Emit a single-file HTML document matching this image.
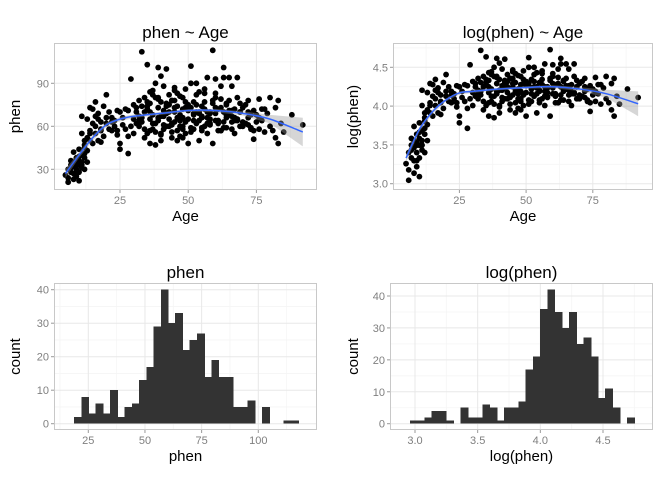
<!DOCTYPE html>
<html><head><meta charset="utf-8"><style>
body{margin:0;background:#fff;}
svg{display:block;font-family:"Liberation Sans",Arial,sans-serif;}
</style></head><body>
<svg id="c" width="672" height="480" viewBox="0 0 672 480"></svg>
<script>
const ages=[5,6,6,6,7,7,7,8,8,8,8,9,9,9,9,10,10,10,10,11,11,11,12,12,12,13,13,11,12,13,14,14,15,15,16,16,17,17,18,18,19,20,21,11,13,14,16,17,19,20,15,18,22,22,23,24,24,25,25,23,21,25,26,27,28,28,29,28,30,31,32,30,33,32,34,34,35,35,36,36,37,37,38,38,39,39,40,40,41,41,42,42,43,43,44,44,45,45,46,46,47,47,48,48,49,49,50,50,51,51,52,52,53,53,54,54,55,55,56,56,57,57,58,58,59,59,60,60,61,61,62,62,63,63,64,64,65,65,66,66,67,67,68,68,69,69,70,71,72,72,73,74,74,75,76,76,77,78,79,80,80,82,82,83,83,84,85,88,92,30,32,33,34,35,36,37,38,39,40,41,42,43,44,45,46,47,48,49,50,51,52,53,54,55,56,57,58,59,60,61,62,63,64,65,66,67,68,70,71,73,75,77,33,36,39,42,45,48,51,54,57,60,63,26,27,29,31,44,46,40,38,47,
7,8,9,10,11,12,9,10,12,14,16,18,20,22,24,31,33,35,37,39,41,43,45,47,49,51,53,55,57,59,61,63,65,67,69,71,73,32,34,36,38,40,42,44,46,48,50,52,54,56,58,60,62,64,66,68,70,72,74,76,78,81,35,37,39,41,43,45,47,49,53,55,58,62,66,69,72,36,40,44,48,52,56,60,64,68];
const phens=[26,21,24,30,33,28,36,23,27,35,42,25,30,38,33,22,28,44,36,31,40,35,30,45,38,35,43,55,47,52,50,57,48,62,60,55,50,65,49,57,53,62,58,67,65,73,77,69,74,82,72,63,66,57,60,71,54,48,44,64,70,70,61,58,41,53,93,71,65,70,60,55,112,78,80,52,103,72,65,48,85,58,90,62,101,73,95,55,88,67,100,60,82,70,78,52,63,85,74,57,68,81,60,72,55,86,65,48,90,102,77,58,70,62,84,50,67,74,60,83,94,55,70,65,113,48,80,93,72,62,88,57,101,94,75,66,68,94,88,58,72,64,94,80,60,70,73,62,66,78,59,71,51,68,79,58,64,56,69,80,60,73,52,48,78,62,56,68,61,75,67,63,58,55,76,68,56,64,77,58,74,65,61,70,66,53,80,63,71,56,68,75,64,59,72,66,61,76,69,57,73,63,59,78,71,55,65,63,75,68,63,72,74,70,80,69,78,66,73,70,62,64,70,66,72,60,62,56,50,50,47,60,
31,32,34,39,33,41,27,33,50,55,67,58,66,63,57,73,66,77,62,79,71,60,73,67,77,59,82,66,70,78,64,59,71,66,76,62,58,64,70,57,80,67,76,62,83,58,75,64,69,86,62,73,57,76,67,64,60,70,57,66,72,57,74,82,66,61,75,87,64,73,90,57,69,79,63,70,61,84,54,78,52,69,77,83,68,65];
const smoothAge=[5,10,15,20,25,30,40,50,60,70,80,92];
const smoothPhen=[27,40,52,61,65,67,69,71,71,69,65,56];
const smoothPhenSe=[3,2,2,1.5,1.5,1.2,1,1,1.2,1.5,3,10];
const smoothLog=[3.33,3.70,3.93,4.08,4.17,4.19,4.22,4.24,4.25,4.22,4.16,4.03];
const smoothLogSe=[0.05,0.03,0.03,0.02,0.02,0.02,0.015,0.015,0.02,0.025,0.05,0.16];
const hist1Start=18.7, hist1Width=3.19;
const hist1Counts=[2,8,3,6,3,10,2,5,6,13,17,29,40,30,33,22,25,27,14,19,14,14,5,5,7,0,5,0,0,1,1];
const hist2Start=2.96, hist2Width=0.0577;
const hist2Counts=[1,1,2,4,4,1,0,5,2,2,6,5,1,5,5,7,17,21,36,42,35,30,35,25,27,21,8,11,5,0,2];
const sc1XTicks=[25,50,75], sc1YTicks=[30,60,90];
const sc2YTicks=[3.0,3.5,4.0,4.5], sc2YLabels=["3.0","3.5","4.0","4.5"];
const h1XTicks=[25,50,75,100], h1YTicks=[0,10,20,30,40];
const h2XTicks=[3.0,3.5,4.0,4.5], h2XLabels=["3.0","3.5","4.0","4.5"], h2YTicks=[0,10,20,30,40];

const svg=document.getElementById('c');
const NS='http://www.w3.org/2000/svg';
function mk(tag,at,parent){const e=document.createElementNS(NS,tag);for(const k in at)e.setAttribute(k,at[k]);(parent||svg).appendChild(e);return e;}
function lin(d0,d1,r0,r1){return v=>r0+(v-d0)*(r1-r0)/(d1-d0);}

function panel(p){
  const g=mk('g',{});
  
  
  const bg=mk('rect',{x:p.x0,y:p.y0,width:p.x1-p.x0,height:p.y1-p.y0,fill:'#fff'},g);
  
  
  const X=lin(p.xd[0],p.xd[1],p.xr[0],p.xr[1]), Y=lin(p.yd[0],p.yd[1],p.yr[0],p.yr[1]);
  const xs=p.xt, ys=p.yt;
  const dx=xs[1]-xs[0], dy=ys[1]-ys[0];
  for(let v=xs[0]-dx/2; v<=xs[xs.length-1]+dx; v+=dx){const px=X(v); if(px>p.x0&&px<p.x1) mk('line',{x1:px,x2:px,y1:p.y0,y2:p.y1,stroke:'#f5f5f5','stroke-width':0.8},g);}
  for(let v=ys[0]-dy/2; v<=ys[ys.length-1]+dy; v+=dy){const py=Y(v); if(py>p.y0&&py<p.y1) mk('line',{x1:p.x0,x2:p.x1,y1:py,y2:py,stroke:'#f5f5f5','stroke-width':0.8},g);}
  xs.forEach((v,i)=>{const px=X(v);mk('line',{x1:px,x2:px,y1:p.y0,y2:p.y1,stroke:'#e8e8e8','stroke-width':1},g);
    mk('line',{x1:px,x2:px,y1:p.y1,y2:p.y1+3,stroke:'#999','stroke-width':1},g);
    const t=mk('text',{x:px,y:p.y1+14,'text-anchor':'middle','font-size':11,fill:'#7f7f7f'},g);t.textContent=p.xl?p.xl[i]:v;
    });
  ys.forEach((v,i)=>{const py=Y(v);mk('line',{x1:p.x0,x2:p.x1,y1:py,y2:py,stroke:'#e8e8e8','stroke-width':1},g);
    mk('line',{x1:p.x0-3,x2:p.x0,y1:py,y2:py,stroke:'#999','stroke-width':1},g);
    const t=mk('text',{x:p.x0-5,y:py+4,'text-anchor':'end','font-size':11,fill:'#7f7f7f'},g);t.textContent=p.yl?p.yl[i]:v;
    });
  p.draw(X,Y,g);
  mk('rect',{x:p.x0+0.5,y:p.y0+0.5,width:p.x1-p.x0-1,height:p.y1-p.y0-1,fill:'none',stroke:'#c8c8c8','stroke-width':1},g);
  const tt=mk('text',{x:(p.x0+p.x1)/2,y:p.y0-5,'text-anchor':'middle','font-size':17,fill:'#000'},g);tt.textContent=p.title;
  
  const xt=mk('text',{x:(p.x0+p.x1)/2,y:p.y1+31,'text-anchor':'middle','font-size':15,fill:'#000'},g);xt.textContent=p.xlab;
  
  const yx=p.ylabX, yy=(p.y0+p.y1)/2;
  const yt=mk('text',{x:yx,y:yy,'text-anchor':'middle','font-size':15,fill:'#000',transform:`rotate(-90 ${yx} ${yy})`},g);yt.textContent=p.ylab;
  
}
function scatterDraw(vals,sm,se){return (X,Y,g)=>{
  ages.forEach((a,i)=>{if(vals[i]===undefined||isNaN(vals[i]))return;
    const c=mk('circle',{cx:X(a),cy:Y(vals[i]),r:2.9,fill:'#000'},g);
    });
  let up=smoothAge.map((a,i)=>X(a)+','+Y(sm[i]+se[i])).join(' ');
  let lo=smoothAge.map((a,i)=>X(a)+','+Y(sm[i]-se[i])).reverse().join(' ');
  const band=mk('polygon',{points:up+' '+lo,fill:'#999','fill-opacity':0.4},g);
  
  const pts=smoothAge.map((a,i)=>[X(a),Y(sm[i])]);
  let d='M'+pts[0];
  for(let i=0;i<pts.length-1;i++){const p0=pts[i-1]||pts[i],p1=pts[i],p2=pts[i+1],p3=pts[i+2]||p2;
    d+=` C${p1[0]+(p2[0]-p0[0])/6},${p1[1]+(p2[1]-p0[1])/6} ${p2[0]-(p3[0]-p1[0])/6},${p2[1]-(p3[1]-p1[1])/6} ${p2[0]},${p2[1]}`;}
  const l=mk('path',{d:d,fill:'none',stroke:'#3366ff','stroke-width':1.5},g);
  
};}
function histDraw(start,w,counts){return (X,Y,g)=>{
  counts.forEach((c,i)=>{if(!c)return;const a=start+i*w;
    const r=mk('rect',{x:X(a),y:Y(c),width:X(a+w)-X(a)+0.6,height:Y(0)-Y(c),fill:'#333','shape-rendering':'crispEdges'},g);
    });
};}
const logs=phens.map(Math.log);
panel({name:'panel-phen-vs-age',x0:54,x1:317,y0:43,y1:190,xd:[0,25],xr:[51.8,120],yd:[30,90],yr:[169.3,83.3],xt:sc1XTicks,yt:sc1YTicks,title:'phen ~ Age',xlab:'Age',ylab:'phen',ylabX:20,draw:scatterDraw(phens,smoothPhen,smoothPhenSe)});
panel({name:'panel-logphen-vs-age',x0:393,x1:653,y0:43,y1:190,xd:[0,25],xr:[392.7,459.4],yd:[3.0,4.5],yr:[183.7,67.3],xt:sc1XTicks,yt:sc2YTicks,yl:sc2YLabels,title:'log(phen) ~ Age',xlab:'Age',ylab:'log(phen)',ylabX:358,draw:scatterDraw(logs,smoothLog,smoothLogSe)});
panel({name:'panel-phen-histogram',x0:54,x1:317,y0:283,y1:430,xd:[25,100],xr:[88.3,258.3],yd:[0,40],yr:[423.7,289.7],xt:h1XTicks,yt:h1YTicks,title:'phen',xlab:'phen',ylab:'count',ylabX:20,draw:histDraw(hist1Start,hist1Width,hist1Counts)});
panel({name:'panel-logphen-histogram',x0:390,x1:653,y0:283,y1:430,xd:[3.0,4.5],xr:[415,603],yd:[0,40],yr:[423.7,296],xt:h2XTicks,xl:h2XLabels,yt:h2YTicks,title:'log(phen)',xlab:'log(phen)',ylab:'count',ylabX:358,draw:histDraw(hist2Start,hist2Width,hist2Counts)});
</script>
</body></html>
